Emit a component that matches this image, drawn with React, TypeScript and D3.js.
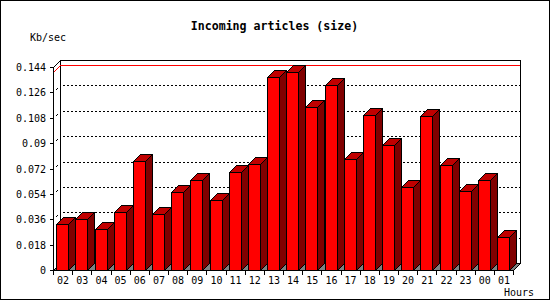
import React from 'react';
import * as d3 from 'd3';

// hourly incoming article volume, Kb/sec
const hours = ['02', '03', '04', '05', '06', '07', '08', '09', '10', '11', '12', '13',
  '14', '15', '16', '17', '18', '19', '20', '21', '22', '23', '00', '01'];
const sizes = [0.0324, 0.0360, 0.0289, 0.0411, 0.0773, 0.0395, 0.0551, 0.0636, 0.0494, 0.0693, 0.0750, 0.1367,
  0.1402, 0.1154, 0.1310, 0.0785, 0.1097, 0.0885, 0.0587, 0.1090, 0.0743, 0.0558, 0.0636, 0.0232];
const yTicks = [0, 0.018, 0.036, 0.054, 0.072, 0.09, 0.108, 0.126, 0.144];

const W = 550;
const H = 300;
const left = 53;
const right = 513;
const top = 67;
const bottom = 270;
const depth = 7;
const mono = '"DejaVu Sans Mono", monospace';

// snap to pixel centres so 1px lines stay sharp
const p = (v: number) => Math.round(v) + 0.5;

export default function App() {
  const slot = d3.scaleBand<string>().domain(hours).range([left, right]);
  const y = d3.scaleLinear().domain([0, 0.144]).range([bottom, top]);
  const barW = 12;
  const maxV = d3.max(sizes) as number;

  const pts = (arr: number[][]) => arr.map(([a, b]) => `${p(a)},${p(b)}`).join(' ');

  return (
    <svg width={W} height={H} shapeRendering="crispEdges"
      style={{ position: 'absolute', left: 0, top: 0, background: '#fff' }}>
      <rect x={0.5} y={0.5} width={W - 1} height={H - 1} fill="#fff" stroke="#000" />

      {/* title and axis names */}
      <text x={274.5} y={30} textAnchor="middle" fontFamily={mono} fontWeight="bold" fontSize={11.6}>
        Incoming articles (size)
      </text>
      <text x={30} y={40.5} fontFamily={mono} fontSize={10}>Kb/sec</text>
      <text x={504} y={296} fontFamily={mono} fontSize={10}>Hours</text>

      {/* back wall */}
      <rect x={p(left + depth)} y={p(top - depth)} width={right - left} height={bottom - top}
        fill="#fff" stroke="#000" />
      {yTicks.filter(t => t > 0 && t < 0.144).map(t => (
        <g key={t}>
          <line x1={p(left + depth) + 2} x2={p(right + depth)} y1={p(y(t) - depth)} y2={p(y(t) - depth)}
            stroke="#000" strokeDasharray="2,2" />
          <line x1={p(left)} y1={p(y(t))} x2={p(left + depth)} y2={p(y(t) - depth)}
            stroke="#000" strokeDasharray="0,4,2,10" />
        </g>
      ))}
      <line x1={p(left)} y1={p(top)} x2={p(left + depth)} y2={p(top - depth)} stroke="#000" />

      {/* maximum marker */}
      <line x1={p(left + depth)} x2={p(right + depth)} y1={p(y(maxV) - depth)} y2={p(y(maxV) - depth)} stroke="#f00" />
      <line x1={p(left)} y1={p(y(maxV))} x2={p(left + depth)} y2={p(y(maxV) - depth)} stroke="#f00" />

      {/* floor */}
      <polygon points={pts([[left, bottom], [left + depth, bottom - depth], [right + depth, bottom - depth], [right, bottom]])}
        fill="#808080" stroke="#000" />

      {/* y axis */}
      <line x1={p(left)} x2={p(left)} y1={p(top)} y2={p(bottom)} stroke="#000" />
      {yTicks.map(t => (
        <g key={t}>
          <line x1={p(left - 4)} x2={p(left)} y1={p(y(t))} y2={p(y(t))} stroke="#000" />
          <text x={46} y={Math.round(y(t)) + 4} textAnchor="end" fontFamily={mono} fontSize={10}>{String(t)}</text>
        </g>
      ))}

      {/* bars */}
      {hours.map((h, i) => {
        const x0 = Math.round((slot(h) as number) + 3.2);
        const x1 = x0 + barW;
        const yt = Math.round(y(sizes[i]));
        return (
          <g key={h} stroke="#000">
            <polygon points={pts([[x1, yt], [x1 + depth, yt - depth], [x1 + depth, bottom - depth], [x1, bottom]])} fill="#800000" />
            <polygon points={pts([[x0, yt], [x0 + depth, yt - depth], [x1 + depth, yt - depth], [x1, yt]])} fill="#c00000" />
            <rect x={p(x0)} y={p(yt)} width={barW} height={bottom - yt} fill="#ff0000" />
          </g>
        );
      })}

      {/* x axis */}
      <line x1={p(left)} x2={p(right)} y1={p(bottom)} y2={p(bottom)} stroke="#000" />
      <line x1={p(right)} y1={p(bottom)} x2={p(right + depth)} y2={p(bottom - depth)} stroke="#000" />
      <line x1={p(right + depth)} x2={p(right + depth)} y1={p(top - depth)} y2={p(bottom - depth)} stroke="#000" />
      {hours.map(h => (
        <line key={h} x1={p(slot(h) as number)} x2={p(slot(h) as number)} y1={p(bottom)} y2={p(bottom + 4)} stroke="#000" />
      ))}
      <line x1={p(right)} x2={p(right)} y1={p(bottom)} y2={p(bottom + 4)} stroke="#000" />
      {hours.map(h => (
        <text key={h} x={(slot(h) as number) + slot.bandwidth() / 2 + 0.5} y={283.5} textAnchor="middle"
          fontFamily={mono} fontSize={10}>{h}</text>
      ))}
    </svg>
  );
}
